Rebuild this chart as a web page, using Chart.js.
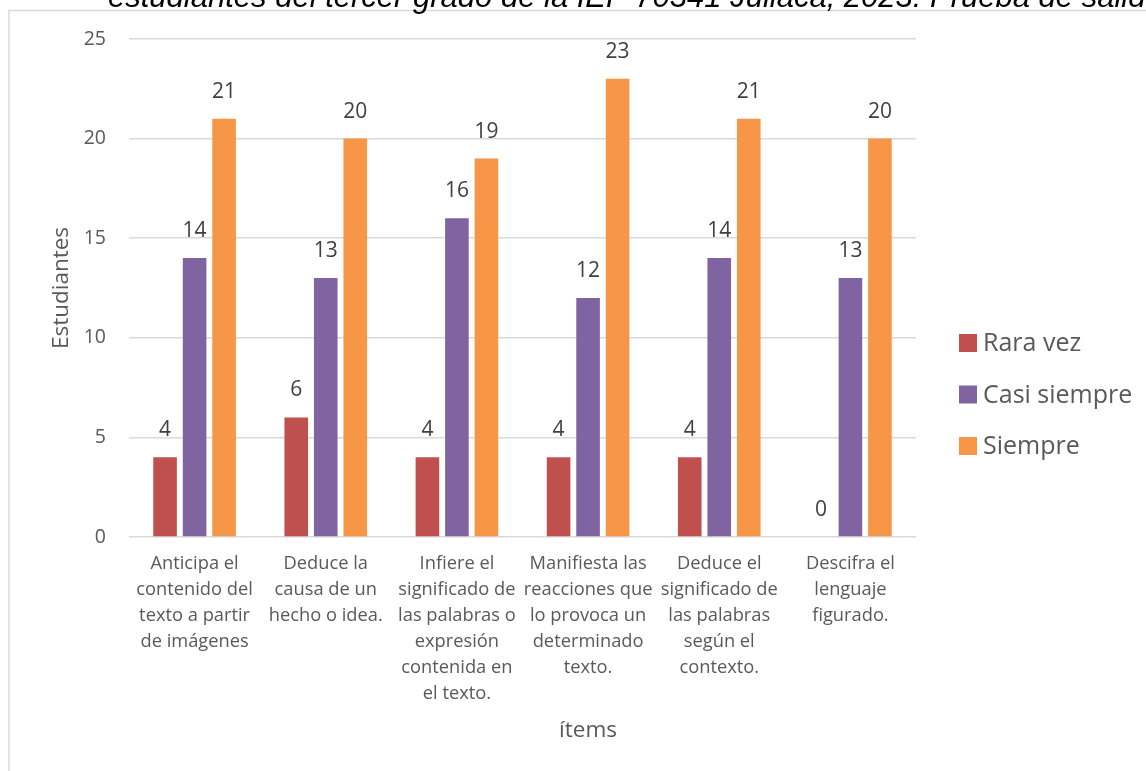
<!DOCTYPE html>
<html><head><meta charset="utf-8">
<script src="https://cdn.jsdelivr.net/npm/chart.js@4"></script>
<style>
html,body{margin:0;padding:0;background:#fff;}
#wrap{position:relative;width:1146px;height:771px;overflow:hidden;}
canvas{display:block;}
</style>
</head><body>
<div id="wrap"><canvas id="c" width="1146" height="771"></canvas></div>
<script>
// ---- data ----
const titleText = "estudiantes del tercer grado de la IEP 70341 Juliaca, 2023. Prueba de salida";
const categories = [
  ["Anticipa el", "contenido del", "texto a partir", "de imágenes"],
  ["Deduce la", "causa de un", "hecho o idea."],
  ["Infiere el", "significado de", "las palabras o", "expresión", "contenida en", "el texto."],
  ["Manifiesta las", "reacciones que", "lo provoca un", "determinado", "texto."],
  ["Deduce el", "significado de", "las palabras", "según el", "contexto."],
  ["Descifra el", "lenguaje", "figurado."]
];
const seriesNames = ["Rara vez", "Casi siempre", "Siempre"];
const rareVez = [4, 6, 4, 4, 4, 0];
const casiSiempre = [14, 13, 16, 12, 14, 13];
const siempre = [21, 20, 19, 23, 21, 20];
const yTicks = [0, 5, 10, 15, 20, 25];
const xTitle = "ítems";
const yTitle = "Estudiantes";
const seriesColors = ["#C0504D", "#8064A2", "#F79646"];

const FONT = "'Open Sans', sans-serif";

const framePlugin = {
  id: 'frame',
  beforeDraw(chart) {
    const ctx = chart.ctx;
    ctx.save();
    ctx.fillStyle = '#ffffff';
    ctx.fillRect(0, 0, chart.width, chart.height);
    ctx.strokeStyle = '#d9d9d9';
    ctx.lineWidth = 1.5;
    ctx.strokeRect(9, 10.5, chart.width + 20, chart.height + 20);
    ctx.fillStyle = '#000000';
    ctx.font = "italic 31px 'Liberation Sans', Arial, sans-serif";
    ctx.textBaseline = 'alphabetic';
    ctx.textAlign = 'left';
    ctx.fillText(titleText, 108, 7);
    ctx.restore();
  }
};

const labelsPlugin = {
  id: 'valueLabels',
  afterDatasetsDraw(chart) {
    const ctx = chart.ctx;
    ctx.save();
    ctx.font = "21px " + FONT;
    ctx.fillStyle = '#404040';
    ctx.textAlign = 'center';
    ctx.textBaseline = 'middle';
    chart.data.datasets.forEach((ds, i) => {
      chart.getDatasetMeta(i).data.forEach((bar, j) => {
        ctx.fillText(String(ds.data[j]), bar.x, bar.y - 27);
      });
    });
    ctx.restore();
  }
};

const legendPlugin = {
  id: 'customLegend',
  afterDraw(chart) {
    const ctx = chart.ctx;
    ctx.save();
    ctx.font = "25px " + FONT;
    ctx.textBaseline = 'middle';
    ctx.textAlign = 'left';
    const ys = [343, 394.5, 446];
    chart.data.datasets.forEach((ds, i) => {
      ctx.fillStyle = ds.backgroundColor;
      ctx.fillRect(959, ys[i] - 9, 18, 18);
      ctx.fillStyle = '#595959';
      ctx.fillText(ds.label, 983, ys[i] + 1);
    });
    // x axis title
    ctx.font = "22.5px " + FONT;
    ctx.textAlign = 'center';
    ctx.fillText(xTitle, 588, 731);
    ctx.restore();
  }
};

new Chart(document.getElementById('c'), {
  type: 'bar',
  data: {
    labels: categories,
    datasets: seriesNames.map((name, i) => ({
      label: name,
      data: [rareVez, casiSiempre, siempre][i],
      backgroundColor: seriesColors[i],
      borderWidth: 0,
      categoryPercentage: 0.675,
      barPercentage: 0.8
    }))
  },
  options: {
    responsive: false,
    animation: false,
    devicePixelRatio: 1,
    layout: { padding: { left: 0, top: 39, right: 230, bottom: 0 } },
    plugins: {
      legend: { display: false },
      tooltip: { enabled: false },
      title: { display: false }
    },
    scales: {
      x: {
        grid: { display: false, drawTicks: false },
        border: { display: false },
        ticks: {
          color: '#595959',
          font: { family: FONT, size: 18.3, lineHeight: '26px' },
          padding: 14,
          maxRotation: 0,
          autoSkip: false
        },
        afterFit(s) { s.height = 234; }
      },
      y: {
        min: 0, max: 25,
        grid: { color: '#d9d9d9', lineWidth: 1.5, drawTicks: false },
        border: { display: false },
        ticks: {
          color: '#595959',
          font: { family: FONT, size: 19.5 },
          padding: 23
        },
        afterBuildTicks(s) { s.ticks = yTicks.map(v => ({ value: v })); },
        title: {
          display: true,
          text: yTitle,
          color: '#595959',
          font: { family: FONT, size: 22.5 },
          padding: { top: 48, bottom: 0 }
        },
        afterFit(s) { s.width = 129; }
      }
    }
  },
  plugins: [framePlugin, labelsPlugin, legendPlugin]
});
</script>
</body></html>
